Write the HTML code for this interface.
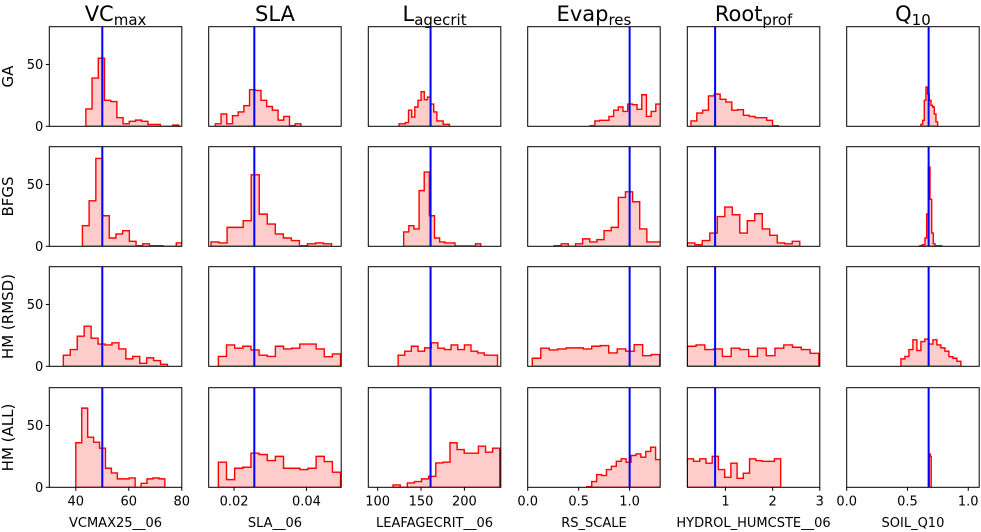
<!DOCTYPE html>
<html><head><meta charset="utf-8"><style>
html,body{margin:0;padding:0;background:#fff;}
svg{display:block;font-family:"DejaVu Sans","Liberation Sans",sans-serif;}
</style></head><body>
<svg id="chart" width="981" height="532" viewBox="0 0 981 532" xmlns="http://www.w3.org/2000/svg"></svg>
<script>
const paramTitles = [["VC","max"],["SLA",""],["L","agecrit"],["Evap","res"],["Root","prof"],["Q","10"]];
const xAxisTitles = ["VCMAX25__06","SLA__06","LEAFAGECRIT__06","RS_SCALE","HYDROL_HUMCSTE__06","SOIL_Q10"];
const rowLabels = ["GA","BFGS","HM (RMSD)","HM (ALL)"];
const xMin = [30,0.013,89.2,0,0.19,0];
const xMax = [80,0.0496,242,1.30,3.0,1.09];
const xTicks = [[40,60,80],[0.02,0.04],[100,150,200],[0,0.5,1.0],[1,2,3],[0,0.5,1.0]];
const xTickLabels = [["40","60","80"],["0.02","0.04"],["100","150","200"],["0.0","0.5","1.0"],["1","2","3"],["0.0","0.5","1.0"]];
const yTicks = [0,50];
const yTickLabels = ["0","50"];
const yMax = 80.5;
const defaultValues = [50,0.0256,161,1.0,0.78,0.674];
// bins: start and width per row per column
const gaStart = [43.8,0.01484,124.7,0.613,0.268,0.611];
const gaWidth = [2.34,0.001575,3.63,0.046,0.1236,0.0137];
const gaCounts = [
 [14,39,55,21,20,7,2,4,5,4,1.5,1.5,0,0,1],
 [2,10,2,8.6,11.6,16.7,29.6,29,21,16,13,5,8,0.5,2],
 [2,2,3,13,7.5,15.6,21,28,21.5,23.6,18,11.6,4.3,4.3,1.6,1.6],
 [0.5,4.3,4.8,4.8,8,13,15.6,12,18,17.5,13.7,25.5,8,12,18],
 [4.3,10.7,13,24.5,26,21.8,19.6,13,13.4,8.9,8,7,7,4.8,0.5],
 [1.6,4.8,21,31.7,26,21,17,15.6,10,3.5]
];
const bfgsStart = [42.5,0.01364,130,0.259,0.19,0.603];
const bfgsWidth = [2.53,0.00222,5.92,0.07,0.159,0.0137];
const bfgsCounts = [
 [16.7,36.8,71,24.7,6.7,10,12.6,4,0.5,2,0.5,0.5,0,0,2.7],
 [3.5,2.7,15.3,15.3,20.7,57.8,26,18,10,6.7,4.6,0.5,2,2.7,2],
 [11.6,16.7,14,45,60,24.7,6.7,3.5,2.7,2.7,0.3,0.3,0.3,0.3,2],
 [0.5,2,0,2,6,3.5,5.4,12.6,15.3,39.5,44,36,14,3.5,3.5],
 [2.7,1.3,4.6,10.7,24,31.7,25.5,10.7,20.7,26.3,14,8.9,2.7,2,4],
 [0.5,1,1.3,6.7,26,64,38,10.7,2,0.5,0.5,0.5,0.5]
];
const rmsdStart = [35.3,0.01567,123.6,0.045,0.19,0.446];
const rmsdWidth = [2.62,0.00225,7.64,0.0833,0.186,0.0329];
const rmsdCounts = [
 [9,13.5,24.3,32.4,22.7,18,17.3,19,14,6,8,2.4,6.8,4.6,1.6],
 [8,17.3,14.6,16.2,13.2,9,8,16.2,14,14.6,18,18,14,7.8,10],
 [9,12.2,16.2,12.2,14.9,19,14.6,13.5,17.3,13.5,17.3,12.2,10.8,9,9],
 [6.5,14.6,13.2,14,14.9,14.9,14,16.2,16.8,10.8,14,12.2,17.5,8.6,9.5],
 [16.2,17.3,13.5,14,8,14.6,13.5,8,14.6,8.6,14.6,17.3,15.4,13.5,10.5],
 [6,8,13.5,21.4,12.7,20,22,18,21.4,17.3,14.9,12.2,7.8,6.5,4]
];
const allStart = [40,0.01567,117.8,0.58,0.19,0.679];
const allWidth = [2.24,0.00225,8.2,0.0482,0.132,0.008];
const allCounts = [
 [36,64,40.5,36.5,31.6,15.4,11.6,6.8,6.8,7.6,0,3.2,6.8,7.6,6.8],
 [20.3,6.2,15.4,16.2,27.6,26.5,21.6,25,15.4,15.4,14.3,15.4,25,20.8,12.2],
 [1.9,0,3.5,4.6,6.8,8.9,19.7,20.3,36,30.5,27.6,27.6,33.2,28.4,31.6],
 [0.5,4.6,10.3,9.5,14.3,17,21,23,20.3,25.7,27,24.3,29,32.4,22.4],
 [23,21,23,19.5,25,14.3,8.1,19.5,7.3,11.4,23,21.6,21,21,23],
 [27,25]
];
const rowStarts=[gaStart,bfgsStart,rmsdStart,allStart];
const rowWidths=[gaWidth,bfgsWidth,rmsdWidth,allWidth];
const rowCounts=[gaCounts,bfgsCounts,rmsdCounts,allCounts];

const NS="http://www.w3.org/2000/svg";
const svg=document.getElementById('chart');
const colLeft=[49.3,208.7,368.3,527.7,687.3,846.7], pw=132.5;
const rowTop=[26.7,146.7,266.7,387.7], ph=99.6;
function mk(tag,attrs,parent){const e=document.createElementNS(NS,tag);for(const k in attrs)e.setAttribute(k,attrs[k]);(parent||svg).appendChild(e);return e;}

for(let c=0;c<6;c++){
  const xs=v=>colLeft[c]+(v-xMin[c])/(xMax[c]-xMin[c])*pw;
  const t=mk('text',{x:colLeft[c]+pw/2,y:21,'text-anchor':'middle','font-size':'21'});
  
  
  t.appendChild(document.createTextNode(paramTitles[c][0]));
  if(paramTitles[c][1]){const s=mk('tspan',{'font-size':'15',dy:'4'},t);s.textContent=paramTitles[c][1];}
  for(let r=0;r<4;r++){
    const top=rowTop[r], base=top+ph;
    const ys=v=>base-v/yMax*ph;
    const g=mk('g',{});
    
    
    const cp=mk('clipPath',{id:'cp'+r+'_'+c},g);
    mk('rect',{x:colLeft[c],y:top,width:pw,height:ph},cp);
    const counts=rowCounts[r][c], st=rowStarts[r][c], w=rowWidths[r][c];
    let d='M'+xs(st)+','+base;
    counts.forEach((n,i)=>{d+=' L'+xs(st+i*w)+','+ys(n)+' L'+xs(st+(i+1)*w)+','+ys(n);});
    d+=' L'+xs(st+counts.length*w)+','+base+' Z';
    const p=mk('path',{d:d,fill:'#ffcccc',stroke:'#ff0000','stroke-width':'1.4','clip-path':'url(#cp'+r+'_'+c+')'},g);
    
    
    const bl=mk('line',{x1:xs(defaultValues[c]),x2:xs(defaultValues[c]),y1:top,y2:base,stroke:'#0000ff','stroke-width':'2'},g);
    
    
    mk('rect',{x:colLeft[c],y:top,width:pw,height:ph,fill:'none',stroke:'#000','stroke-width':'1'},g);
    if(c===0){
      yTicks.forEach((v,i)=>{
        mk('line',{x1:colLeft[0]-3.5,x2:colLeft[0],y1:ys(v),y2:ys(v),stroke:'#000'},g);
        const tl=mk('text',{x:colLeft[0]-6,y:ys(v)+4.5,'text-anchor':'end','font-size':'13'},g);
        
        
        tl.textContent=yTickLabels[i];
      });
      const rl=mk('text',{transform:'translate(13,'+(top+ph/2)+') rotate(-90)','text-anchor':'middle','font-size':'15'},g);
      
      
      rl.textContent=rowLabels[r];
    }
    if(r===3){
      xTicks[c].forEach((v,i)=>{
        mk('line',{x1:xs(v),x2:xs(v),y1:base,y2:base+3.5,stroke:'#000'},g);
        const tl=mk('text',{x:xs(v),y:base+18,'text-anchor':'middle','font-size':'13'},g);
        
        
        tl.textContent=xTickLabels[c][i];
      });
      const xt=mk('text',{x:colLeft[c]+pw/2,y:527,'text-anchor':'middle','font-size':'13'},g);
      
      
      xt.textContent=xAxisTitles[c];
    }
  }
}
</script>
</body></html>
